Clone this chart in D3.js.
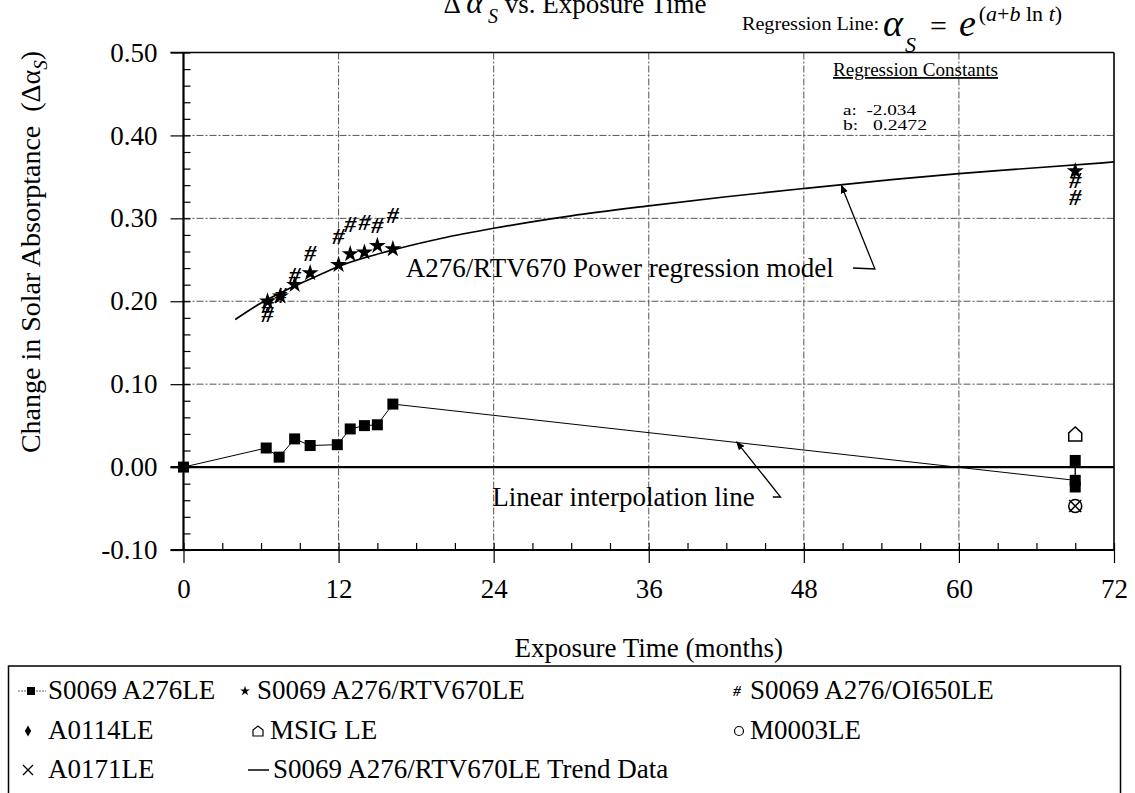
<!DOCTYPE html>
<html>
<head>
<meta charset="utf-8">
<script src="https://cdn.jsdelivr.net/npm/d3@7"></script>
<style>
  body { margin: 0; background: #fff; }
  text { font-family: "Liberation Serif", "Times New Roman", serif; fill: #000; }
</style>
</head>
<body>
<div id="chart"></div>
<script>
// ---- data ----
const xTicks = [0, 12, 24, 36, 48, 60, 72];
const yTicks = [-0.1, 0, 0.1, 0.2, 0.3, 0.4, 0.5];

// S0069 A276LE (squares, joined by the linear interpolation line)
const a276Months = [0, 6.4, 7.4, 8.6, 9.8, 11.9, 12.9, 14.0, 15.0, 16.2, 69, 69, 69];
const a276Values = [0.000, 0.023, 0.012, 0.034, 0.026, 0.027, 0.046, 0.050, 0.051, 0.076, -0.016, 0.008, -0.024];

// S0069 A276/RTV670LE (stars)
const rtvMonths = [6.5, 7.5, 8.6, 9.8, 12.0, 12.9, 14.0, 15.0, 16.2, 69];
const rtvValues = [0.200, 0.206, 0.220, 0.234, 0.244, 0.257, 0.259, 0.267, 0.263, 0.357];

// S0069 A276/OI650LE (#)
const oiMonths = [6.5, 6.5, 7.5, 8.6, 9.8, 12.0, 12.9, 14.0, 15.0, 16.2, 69, 69];
const oiValues = [0.196, 0.185, 0.208, 0.232, 0.259, 0.279, 0.294, 0.296, 0.293, 0.305, 0.347, 0.326];

// single long-exposure samples
const a0114Months = [69];  const a0114Values = [-0.020];
const msigMonths = [69];   const msigValues = [0.040];
const m0003Months = [69];  const m0003Values = [-0.047];
const a0171Months = [69];  const a0171Values = [-0.047];

// S0069 A276/RTV670LE trend (power regression curve as drawn)
const trendMonths = [4, 6, 8, 10, 12, 16, 20, 24, 30, 36, 42, 48, 55, 60, 66, 72];
const trendValues = [0.178, 0.198, 0.214, 0.228, 0.242, 0.261, 0.276, 0.288, 0.303, 0.315, 0.326, 0.336, 0.347, 0.354, 0.361, 0.368];

const legendLabels = [
  'S0069 A276LE', 'S0069 A276/RTV670LE', 'S0069 A276/OI650LE',
  'A0114LE', 'MSIG LE', 'M0003LE',
  'A0171LE', 'S0069 A276/RTV670LE Trend Data'
];

const zip = (xs, ys) => xs.map((m, i) => [m, ys[i]]);

// ---- chart ----
const W = 1135, H = 793;
const svg = d3.select('#chart').append('svg')
  .attr('width', W).attr('height', H);

svg.append('rect').attr('width', W).attr('height', H).attr('fill', '#fff');

const defs = svg.append('defs');
defs.append('marker')
  .attr('id', 'arrow')
  .attr('viewBox', '0 0 10 10')
  .attr('refX', 9).attr('refY', 5)
  .attr('markerWidth', 9).attr('markerHeight', 9)
  .attr('markerUnits', 'userSpaceOnUse')
  .attr('orient', 'auto')
  .append('path').attr('d', 'M0,1 L10,5 L0,9 Z').attr('fill', '#000');

const x = d3.scaleLinear().domain([0, 72]).range([183.5, 1114]);
const y = d3.scaleLinear().domain([-0.1, 0.5]).range([550, 52.5]);

// grid
svg.append('g')
  .selectAll('line')
  .data(yTicks.filter(v => v > -0.1 && v < 0.5 && v !== 0))
  .enter().append('line')
  .attr('x1', x(0)).attr('x2', x(72))
  .attr('y1', d => y(d)).attr('y2', d => y(d))
  .attr('stroke', '#555').attr('stroke-width', 1)
  .attr('stroke-dasharray', '7,2,2,2');

svg.append('g')
  .selectAll('line')
  .data(xTicks.filter(v => v > 0 && v < 72))
  .enter().append('line')
  .attr('x1', d => x(d)).attr('x2', d => x(d))
  .attr('y1', y(0.5)).attr('y2', y(-0.1))
  .attr('stroke', '#555').attr('stroke-width', 1)
  .attr('stroke-dasharray', '7,2,2,2');

// minor ticks (inside)
svg.append('g')
  .attr('transform', `translate(${x(0)},0)`)
  .call(d3.axisLeft(y).tickValues(d3.range(-0.1, 0.5001, 0.02)).tickSize(-7).tickFormat(''))
  .call(g => g.select('.domain').remove())
  .call(g => g.selectAll('.tick line').attr('stroke', '#000').attr('stroke-width', 1.2));

svg.append('g')
  .attr('transform', `translate(0,${y(-0.1)})`)
  .call(d3.axisBottom(x).tickValues(d3.range(0, 72.01, 3)).tickSize(-7).tickFormat(''))
  .call(g => g.select('.domain').remove())
  .call(g => g.selectAll('.tick line').attr('stroke', '#000').attr('stroke-width', 1.2));

// major ticks + labels
svg.append('g')
  .attr('transform', `translate(${x(0)},0)`)
  .call(d3.axisLeft(y).tickValues(yTicks).tickSize(13).tickPadding(13).tickFormat(d => d.toFixed(2)))
  .call(g => g.select('.domain').remove())
  .call(g => g.selectAll('.tick line').attr('stroke', '#000').attr('stroke-width', 1.2))
  .call(g => g.selectAll('.tick text')
    .attr('font-family', '"Liberation Serif", serif')
    .attr('font-size', '27px').attr('fill', '#000'));

svg.append('g')
  .attr('transform', `translate(0,${y(-0.1)})`)
  .call(d3.axisBottom(x).tickValues(xTicks).tickSize(13).tickPadding(16))
  .call(g => g.select('.domain').remove())
  .call(g => g.selectAll('.tick line').attr('stroke', '#000').attr('stroke-width', 1.2))
  .call(g => g.selectAll('.tick text')
    .attr('font-family', '"Liberation Serif", serif')
    .attr('font-size', '27px').attr('fill', '#000'));

// frame, axes and zero line
const frame = svg.append('g').attr('stroke', '#000').attr('fill', 'none');
frame.append('line').attr('x1', x(0) - 13).attr('x2', x(72)).attr('y1', y(0.5)).attr('y2', y(0.5)).attr('stroke-width', 1.6);
frame.append('line').attr('x1', x(72)).attr('x2', x(72)).attr('y1', y(0.5)).attr('y2', y(-0.1)).attr('stroke-width', 1.6);
frame.append('line').attr('x1', x(0)).attr('x2', x(0)).attr('y1', y(0.5)).attr('y2', y(-0.1)).attr('stroke-width', 2.2);
frame.append('line').attr('x1', x(0) - 13).attr('x2', x(72)).attr('y1', y(-0.1)).attr('y2', y(-0.1)).attr('stroke-width', 2.2);
frame.append('line').attr('x1', x(0) - 13).attr('x2', x(72)).attr('y1', y(0)).attr('y2', y(0)).attr('stroke-width', 2.2);

// lines
const line = d3.line().x(d => x(d[0])).y(d => y(d[1]));

svg.append('path')
  .datum(zip(a276Months, a276Values))
  .attr('d', line)
  .attr('fill', 'none').attr('stroke', '#000').attr('stroke-width', 1);

svg.append('path')
  .datum(zip(trendMonths, trendValues))
  .attr('d', line.curve(d3.curveMonotoneX))
  .attr('fill', 'none').attr('stroke', '#000').attr('stroke-width', 1.7);

// markers
const starPath = d3.symbol(d3.symbolStar).size(90)();
const housePath = 'M-6.5,7 L6.5,7 L6.5,-1 L0,-7 L-6.5,-1 Z';
const crossPath = 'M-6,-6 L6,6 M-6,6 L6,-6';

svg.append('g').selectAll('path')
  .data(zip(msigMonths, msigValues)).enter().append('path')
  .attr('d', housePath)
  .attr('transform', d => `translate(${x(d[0])},${y(d[1])})`)
  .attr('fill', '#fff').attr('stroke', '#000').attr('stroke-width', 1.5);

svg.append('g').selectAll('circle')
  .data(zip(m0003Months, m0003Values)).enter().append('circle')
  .attr('cx', d => x(d[0])).attr('cy', d => y(d[1])).attr('r', 6.5)
  .attr('fill', 'none').attr('stroke', '#000').attr('stroke-width', 1.5);

svg.append('g').selectAll('path')
  .data(zip(a0171Months, a0171Values)).enter().append('path')
  .attr('d', crossPath)
  .attr('transform', d => `translate(${x(d[0])},${y(d[1])})`)
  .attr('fill', 'none').attr('stroke', '#000').attr('stroke-width', 1.5);

svg.append('g').selectAll('path')
  .data(zip(a0114Months, a0114Values)).enter().append('path')
  .attr('d', d3.symbol(d3.symbolDiamond).size(60)())
  .attr('transform', d => `translate(${x(d[0])},${y(d[1])})`)
  .attr('fill', '#000');

svg.append('g').selectAll('rect')
  .data(zip(a276Months, a276Values)).enter().append('rect')
  .attr('x', d => x(d[0]) - 5.5).attr('y', d => y(d[1]) - 5.5)
  .attr('width', 11).attr('height', 11)
  .attr('fill', '#000');

svg.append('g').selectAll('text')
  .data(zip(oiMonths, oiValues)).enter().append('text')
  .attr('x', d => x(d[0])).attr('y', d => y(d[1]))
  .attr('dy', '0.35em')
  .attr('text-anchor', 'middle')
  .attr('font-size', '24px').attr('font-weight', 'bold').attr('font-style', 'italic')
  .text('#');

svg.append('g').selectAll('path')
  .data(zip(rtvMonths, rtvValues)).enter().append('path')
  .attr('d', starPath)
  .attr('transform', d => `translate(${x(d[0])},${y(d[1])})`)
  .attr('fill', '#000');

// annotations
svg.append('text')
  .attr('x', x(17.2)).attr('y', 277)
  .attr('font-size', '27px')
  .text('A276/RTV670 Power regression model');
svg.append('polyline')
  .attr('points', [[x(51.8), 268], [x(53.5), 269], [x(50.9), y(0.340)]].map(p => p.join(',')).join(' '))
  .attr('fill', 'none').attr('stroke', '#000').attr('stroke-width', 1.3)
  .attr('marker-end', 'url(#arrow)');

svg.append('text')
  .attr('x', x(23.9)).attr('y', 506)
  .attr('font-size', '27px')
  .text('Linear interpolation line');
svg.append('polyline')
  .attr('points', [[x(45.6), 497], [x(46.2), 497], [x(42.8), y(0.0305)]].map(p => p.join(',')).join(' '))
  .attr('fill', 'none').attr('stroke', '#000').attr('stroke-width', 1.3)
  .attr('marker-end', 'url(#arrow)');

// title (cut at the top edge)
const title = svg.append('text')
  .attr('x', 575).attr('y', 13)
  .attr('text-anchor', 'middle')
  .attr('font-size', '27px');
title.append('tspan').text('\u0394 ');
title.append('tspan').attr('font-style', 'italic').attr('font-size', '32px').text('\u03b1');
title.append('tspan').attr('font-style', 'italic').attr('font-size', '20px').attr('dy', 10).text(' S');
title.append('tspan').attr('dy', -10).text(' vs. Exposure Time');

// regression formula
svg.append('text')
  .attr('x', 742).attr('y', 30)
  .attr('font-size', '18px')
  .attr('textLength', 137).attr('lengthAdjust', 'spacingAndGlyphs')
  .text('Regression Line:');
const formula = svg.append('text').attr('x', 883).attr('y', 36);
formula.append('tspan').attr('font-style', 'italic').attr('font-size', '38px').text('\u03b1');
formula.append('tspan').attr('font-style', 'italic').attr('font-size', '22px').attr('dx', 2).attr('dy', 16).text('S');
formula.append('tspan').attr('font-size', '30px').attr('dx', 14).attr('dy', -16).text('=');
formula.append('tspan').attr('font-style', 'italic').attr('font-size', '38px').attr('dx', 12).text('e');
const sup = formula.append('tspan').attr('font-size', '22px').attr('dx', 3).attr('dy', -15);
sup.append('tspan').text('(');
sup.append('tspan').attr('font-style', 'italic').text('a');
sup.append('tspan').text('+');
sup.append('tspan').attr('font-style', 'italic').text('b');
sup.append('tspan').text(' ln ');
sup.append('tspan').attr('font-style', 'italic').text('t');
sup.append('tspan').text(')');

svg.append('text')
  .attr('x', 833).attr('y', 76)
  .attr('font-size', '18px')
  .attr('text-decoration', 'underline')
  .attr('textLength', 165).attr('lengthAdjust', 'spacingAndGlyphs')
  .text('Regression Constants');
svg.append('text')
  .attr('x', 843).attr('y', 115)
  .attr('font-size', '14px').style('white-space', 'pre')
  .attr('textLength', 73).attr('lengthAdjust', 'spacingAndGlyphs')
  .text('a:  -2.034');
svg.append('text')
  .attr('x', 843).attr('y', 130)
  .attr('font-size', '14px').style('white-space', 'pre')
  .attr('textLength', 84).attr('lengthAdjust', 'spacingAndGlyphs')
  .text('b:   0.2472');

// axis titles
const yTitle = svg.append('text')
  .attr('transform', 'translate(40,252) rotate(-90)')
  .attr('text-anchor', 'middle')
  .attr('font-size', '28px')
  .style('white-space', 'pre');
yTitle.append('tspan').text('Change in Solar Absorptance  (\u0394\u03b1');
yTitle.append('tspan').attr('font-style', 'italic').attr('font-size', '19px').attr('dy', 7).text('S');
yTitle.append('tspan').attr('dy', -7).text(')');

svg.append('text')
  .attr('x', (x(0) + x(72)) / 2).attr('y', 657)
  .attr('text-anchor', 'middle')
  .attr('font-size', '27px')
  .text('Exposure Time (months)');

// legend
svg.append('rect')
  .attr('x', 8.5).attr('y', 666).attr('width', 1112).attr('height', 150)
  .attr('fill', 'none').attr('stroke', '#000').attr('stroke-width', 1.5);

const legendTextX = [48, 257, 750, 48, 270, 750, 48, 273];
const rowBase = [699, 739, 778];
const leg = svg.append('g');

legendLabels.forEach((label, i) => {
  const r = Math.floor(i / 3);
  leg.append('text')
    .attr('x', legendTextX[i]).attr('y', rowBase[r])
    .attr('font-size', '27px')
    .text(label);
});

const my = r => rowBase[r] - 8;
// square with line
leg.append('line').attr('x1', 18).attr('x2', 46).attr('y1', my(0)).attr('y2', my(0))
  .attr('stroke', '#666').attr('stroke-width', 1).attr('stroke-dasharray', '2,1');
leg.append('rect').attr('x', 27).attr('y', my(0) - 4).attr('width', 8).attr('height', 8).attr('fill', '#000');
// star
leg.append('path').attr('d', d3.symbol(d3.symbolStar).size(30)())
  .attr('transform', `translate(245,${my(0)})`).attr('fill', '#000');
// hash
leg.append('text').attr('x', 737).attr('y', my(0)).attr('dy', '0.35em')
  .attr('text-anchor', 'middle').attr('font-size', '15px').attr('font-weight', 'bold').attr('font-style', 'italic')
  .text('#');
// diamond
leg.append('path').attr('d', d3.symbol(d3.symbolDiamond).size(35)())
  .attr('transform', `translate(28,${my(1)})`).attr('fill', '#000');
// house
leg.append('path').attr('d', 'M-5,5 L5,5 L5,-1 L0,-5 L-5,-1 Z')
  .attr('transform', `translate(258,${my(1)})`)
  .attr('fill', '#fff').attr('stroke', '#000').attr('stroke-width', 1.2);
// circle
leg.append('circle').attr('cx', 739).attr('cy', my(1)).attr('r', 4.5)
  .attr('fill', 'none').attr('stroke', '#000').attr('stroke-width', 1.2);
// cross
leg.append('path').attr('d', 'M-5,-5 L5,5 M-5,5 L5,-5')
  .attr('transform', `translate(28,${my(2)})`)
  .attr('fill', 'none').attr('stroke', '#000').attr('stroke-width', 1.3);
// trend dash
leg.append('line').attr('x1', 248).attr('x2', 269).attr('y1', my(2)).attr('y2', my(2))
  .attr('stroke', '#000').attr('stroke-width', 1.5);
</script>
</body>
</html>
